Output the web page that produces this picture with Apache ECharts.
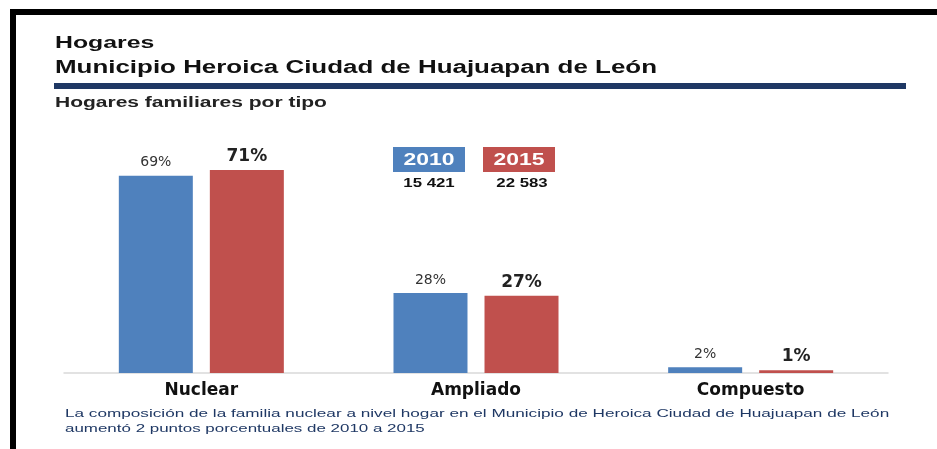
<!DOCTYPE html>
<html>
<head>
<meta charset="utf-8">
<script src="https://cdn.jsdelivr.net/npm/echarts@6/dist/echarts.min.js"></script>
<style>
  html, body { margin: 0; padding: 0; background: #fff; }
  #chart { width: 937px; height: 449px; }
</style>
</head>
<body>
<div id="chart"></div>
<script>
// datos
const categories = ['Nuclear', 'Ampliado', 'Compuesto']
const values2010 = [69, 28, 2]
const values2015 = [71, 27, 1]
const years = ['2010', '2015']
const totals = ['15 421', '22 583']

const blue = '#4f81bd'
const red = '#c0504d'
const navy = '#1f3864'
const font = 'Liberation Sans'

let myChart = echarts.init(document.getElementById('chart'))

// texto estirado a lo ancho, como en la imagen original
function wideText (txt, x, y, size, weight, color, sx, align) {
    return {
        type: 'text', x: x, y: y, scaleX: sx,
        style: {
            text: txt, fill: color,
            font: weight + ' ' + size + 'px ' + font,
            align: align || 'left', verticalAlign: 'middle'
        }
    }
}

let option = {
    backgroundColor: '#fff',
    animation: false,
    textStyle: { fontFamily: 'DejaVu Sans' },
    grid: { left: 64, right: 49, top: 87, bottom: 76 },
    xAxis: {
        type: 'category',
        data: categories,
        axisLine: { lineStyle: { color: '#d9d9d9', width: 1.5 } },
        axisTick: { show: false },
        axisLabel: { fontSize: 17, fontWeight: 'bold', color: '#111', margin: 9 }
    },
    yAxis: {
        type: 'value',
        min: 0,
        max: 100,
        show: false
    },
    series: [
        {
            name: years[0],
            type: 'bar',
            data: values2010,
            barWidth: 74,
            barGap: '23%',
            itemStyle: { color: blue },
            label: {
                show: true, position: 'top', formatter: '{c}%',
                fontSize: 14, color: '#333', distance: 6
            }
        },
        {
            name: years[1],
            type: 'bar',
            data: values2015,
            barWidth: 74,
            itemStyle: { color: red },
            label: {
                show: true, position: 'top', formatter: '{c}%',
                fontSize: 17, fontWeight: 'bold', color: '#222', distance: 5
            }
        }
    ],
    graphic: [
        // bordes negros
        { type: 'rect', shape: { x: 10, y: 9, width: 927, height: 6 }, style: { fill: '#000' } },
        { type: 'rect', shape: { x: 10, y: 9, width: 6, height: 440 }, style: { fill: '#000' } },
        // titulos
        wideText('Hogares', 55, 44, 16, 'bold', '#111', 1.55),
        wideText('Municipio Heroica Ciudad de Huajuapan de León', 55, 68, 18, 'bold', '#111', 1.44),
        // barra azul bajo el titulo
        { type: 'rect', shape: { x: 54, y: 83, width: 852, height: 6 }, style: { fill: navy } },
        wideText('Hogares familiares por tipo', 55, 103, 14, 'bold', '#222', 1.5),
        // leyenda
        { type: 'rect', shape: { x: 393, y: 147, width: 72, height: 25 }, style: { fill: blue } },
        wideText(years[0], 429, 160, 17, 'bold', '#fff', 1.35, 'center'),
        { type: 'rect', shape: { x: 483, y: 147, width: 72, height: 25 }, style: { fill: red } },
        wideText(years[1], 519, 160, 17, 'bold', '#fff', 1.35, 'center'),
        wideText(totals[0], 429, 184, 12, 'bold', '#111', 1.4, 'center'),
        wideText(totals[1], 522, 184, 12, 'bold', '#111', 1.4, 'center'),
        // nota al pie
        wideText('La composición de la familia nuclear a nivel hogar en el Municipio de Heroica Ciudad de Huajuapan de León', 65, 414, 11, 'normal', navy, 1.56),
        wideText('aumentó 2 puntos porcentuales de 2010 a 2015', 65, 429, 11, 'normal', navy, 1.54)
    ]
}

myChart.setOption(option, true)
</script>
</body>
</html>
